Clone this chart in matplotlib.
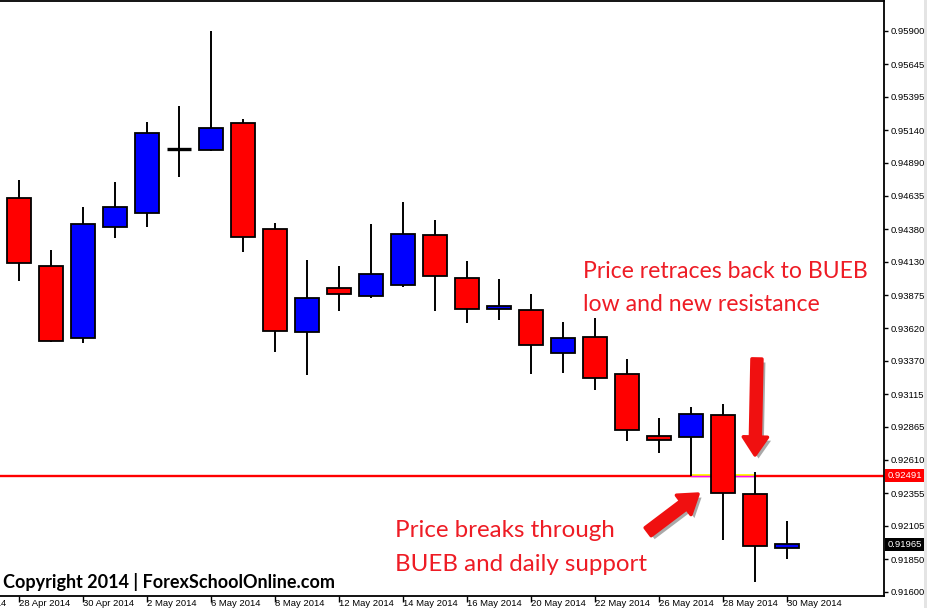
import matplotlib
matplotlib.use("Agg")
import matplotlib.pyplot as plt
from matplotlib.patches import FancyArrowPatch, ArrowStyle, Rectangle
from matplotlib.transforms import ScaledTranslation, blended_transform_factory
import matplotlib.patheffects as pe

# ---------------- data ----------------
dates = ["28 Apr 2014", "29 Apr 2014", "30 Apr 2014", "1 May 2014", "2 May 2014",
         "5 May 2014", "6 May 2014", "7 May 2014", "8 May 2014", "9 May 2014",
         "12 May 2014", "13 May 2014", "14 May 2014", "15 May 2014", "16 May 2014",
         "19 May 2014", "20 May 2014", "21 May 2014", "22 May 2014", "23 May 2014",
         "26 May 2014", "27 May 2014", "28 May 2014", "29 May 2014", "30 May 2014"]
prev_label = "24 Apr 2014"

opens  = [0.94617, 0.94095, 0.93543, 0.94395, 0.94502, 0.94997, 0.94985, 0.95192,
          0.94379, 0.93589, 0.93927, 0.93865, 0.93950, 0.94333, 0.94003, 0.93768,
          0.93758, 0.93428, 0.93551, 0.93267, 0.92792, 0.92784, 0.92953, 0.92347,
          0.91933]
highs  = [0.94757, 0.94220, 0.94550, 0.94742, 0.95202, 0.95325, 0.95900, 0.95225,
          0.94428, 0.94144, 0.94098, 0.94420, 0.94589, 0.94451, 0.94136, 0.93998,
          0.93883, 0.93668, 0.93699, 0.93385, 0.92932, 0.93017, 0.93042, 0.92516,
          0.92142]
lows   = [0.93985, 0.93518, 0.93510, 0.94315, 0.94399, 0.94783, 0.94983, 0.94207,
          0.93441, 0.93264, 0.93755, 0.93855, 0.93939, 0.93755, 0.93663, 0.93686,
          0.93272, 0.93280, 0.93149, 0.92758, 0.92666, 0.92491, 0.91999, 0.91677,
          0.91848]
closes = [0.94118, 0.93520, 0.94418, 0.94548, 0.95115, 0.94997, 0.95154, 0.94318,
          0.93597, 0.93850, 0.93881, 0.94034, 0.94341, 0.94019, 0.93766, 0.93794,
          0.93490, 0.93543, 0.93237, 0.92838, 0.92762, 0.92961, 0.92355, 0.91951,
          0.91965]

ytick_vals = [0.95900, 0.95645, 0.95395, 0.95140, 0.94890, 0.94635, 0.94380, 0.94130,
              0.93875, 0.93620, 0.93370, 0.93115, 0.92865, 0.92610, 0.92355, 0.92105,
              0.91850, 0.91600]
ytick_labels = ["%.5f" % v for v in ytick_vals]

level_price = 0.92491
last_price = 0.91965

# ---------------- figure ----------------
W, H = 927, 608
fig = plt.figure(figsize=(W / 100, H / 100), dpi=100)
fig.patch.set_facecolor("white")
ax = fig.add_axes([0, (H - 596) / H, 884 / W, 595 / H])
ax.set_facecolor("white")

TICKFONT = dict(family=["Liberation Sans", "DejaVu Sans"], size=6.8)

n = len(opens)
xs = list(range(n))
bw = 0.75
for i in xs:
    o, h, l, c = opens[i], highs[i], lows[i], closes[i]
    ax.vlines(i, l, h, color="black", lw=1.4, zorder=2)
    if abs(c - o) < 1e-6:
        ax.hlines(o, i - bw / 2, i + bw / 2, color="black", lw=2.4, zorder=3)
    else:
        col = "#0000ff" if c > o else "#ff0000"
        ax.bar(i, abs(c - o), bottom=min(o, c), width=bw, color=col,
               edgecolor="black", linewidth=1.3, zorder=3)

# support / resistance line
ax.axhline(level_price, color="#ff0000", lw=1.7, zorder=1)
px = 7.669e-5  # price per pixel
ax.hlines(level_price + 0.9 * px, 21, 23, color="#ffff00", lw=1.3, zorder=1.5)
ax.hlines(level_price - 0.2 * px, 21, 23, color="#ff00ff", lw=1.0, zorder=1.6)

ax.set_xlim(-0.594, 27.03)
ax.set_ylim(0.91567, 0.96130)

# spines
ax.spines["left"].set_visible(False)
for s in ["top", "bottom", "right"]:
    ax.spines[s].set_color("black")
    ax.spines[s].set_linewidth(1.3)

# y axis on right
ax.yaxis.tick_right()
ax.set_yticks(ytick_vals)
ax.set_yticklabels(ytick_labels, **TICKFONT)
ax.tick_params(axis="y", direction="out", length=3, width=1, pad=2, colors="black")

# x axis ticks
label_idx = list(range(0, n, 2))
ax.set_xticks(label_idx)
ax.set_xticklabels([])
ax.tick_params(axis="x", direction="out", length=4, width=1, colors="black")
off = ScaledTranslation(-0.5 / 100, -3.5 / 100, fig.dpi_scale_trans)
trans = ax.get_xaxis_transform() + off
for i in label_idx:
    ax.text(i, 0, dates[i], transform=trans, ha="left", va="top",
            clip_on=False, **TICKFONT)
ax.text(-2, 0, prev_label, transform=trans, ha="left", va="top",
        clip_on=False, **TICKFONT)

# price boxes on the right axis
btrans = blended_transform_factory(fig.transFigure, ax.transData)
for price, col in [(level_price, "#ff0000"), (last_price, "black")]:
    ax.add_patch(Rectangle((885 / W, price - 6.5 * px), 41 / W, 13 * px,
                           transform=btrans, facecolor=col, edgecolor="none",
                           clip_on=False, zorder=5))
    ax.text(888 / W, price, "%.5f" % price, transform=btrans, color="white",
            ha="left", va="center", clip_on=False, zorder=6, **TICKFONT)

# right scrollbar-like strip
fig.patches.append(Rectangle((924 / W, 0), 3 / W, 1, transform=fig.transFigure,
                             facecolor="#e4e4e4", edgecolor="none"))

# annotations
RED = "#ee1c25"
AF1 = dict(family=["Lato", "DejaVu Sans"], size=16.6, color=RED)
AF2 = dict(family=["Lato", "DejaVu Sans"], size=17.4, color=RED)
ax.text(17.63, 0.94006, "Price retraces back to BUEB", ha="left", va="baseline", **AF1)
ax.text(17.63, 0.93753, "low and new resistance", ha="left", va="baseline", **AF1)
ax.text(11.75, 0.92019, "Price breaks through", ha="left", va="baseline", **AF2)
ax.text(11.75, 0.91759, "BUEB and daily support", ha="left", va="baseline", **AF2)

style = ArrowStyle.Simple(head_length=1.3, head_width=1.75, tail_width=0.72)
for (x0, y0), (x1, y1) in [((23.06, 0.93385), (23.0, 0.92648)),
                           ((19.66, 0.92060), (21.22, 0.92349))]:
    arr = FancyArrowPatch((x0, y0), (x1, y1), arrowstyle=style, mutation_scale=10,
                          facecolor="#f01010", edgecolor="#f01010", linewidth=2.5,
                          joinstyle="round", capstyle="round", zorder=7,
                          shrinkA=0, shrinkB=0)
    arr.set_path_effects([pe.SimplePatchShadow(offset=(2.5, -2.5), shadow_rgbFace="#555555",
                                               alpha=0.5), pe.Normal()])
    ax.add_patch(arr)

# copyright
fig.text(3 / W, 1 - 588 / H, "Copyright 2014 | ForexSchoolOnline.com",
         family=["Lato", "DejaVu Sans"], weight="bold", size=13, color="black",
         ha="left", va="baseline")

fig.savefig("out.png", dpi=100, facecolor="white")
